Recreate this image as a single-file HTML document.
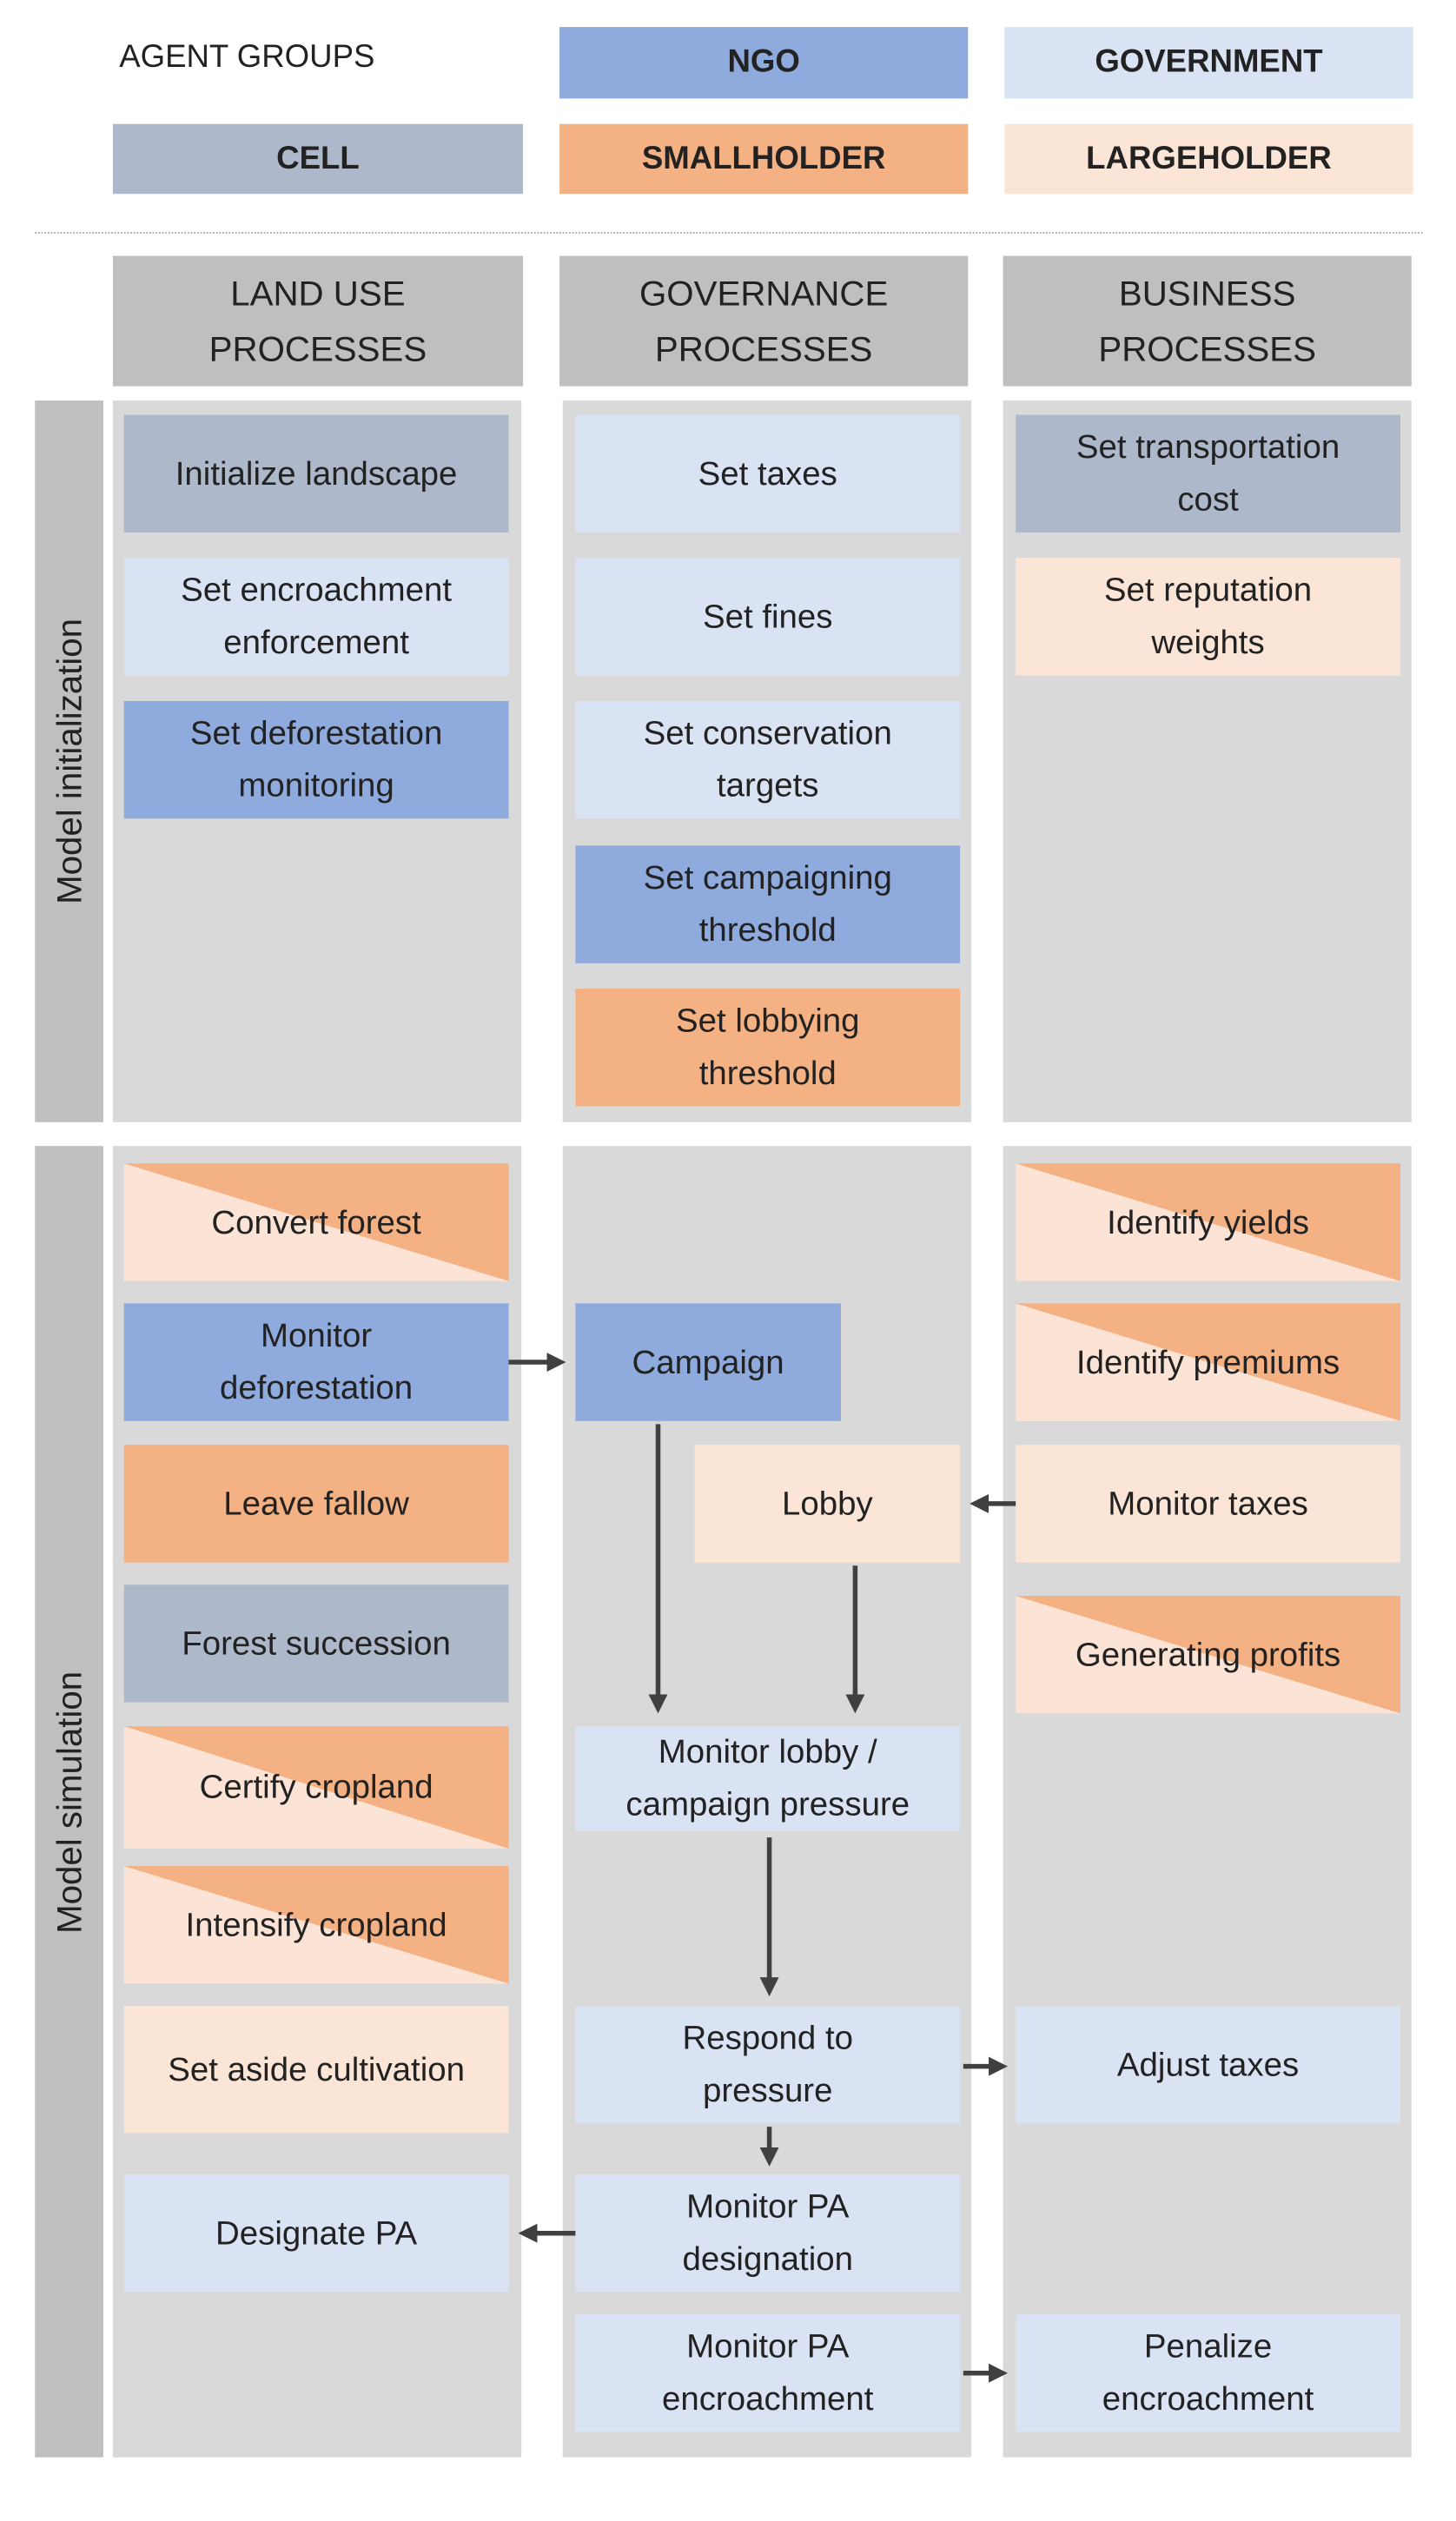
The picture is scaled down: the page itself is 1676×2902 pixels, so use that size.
<!DOCTYPE html>
<html><head><meta charset="utf-8"><style>
html,body{margin:0;padding:0;background:#fff;}
#wrap{position:relative;width:916px;height:1586px;transform:scale(1.8297);transform-origin:0 0;font-family:"Liberation Sans",sans-serif;color:#222;}
.b{position:absolute;display:flex;align-items:center;justify-content:center;text-align:center;font-size:21px;line-height:33px;box-sizing:border-box;}
.leg{font-weight:bold;font-size:20px;}
.hd{background:#bfbfbf;font-size:22px;line-height:35px;}
.bg{position:absolute;background:#d9d9d9;}
.side{position:absolute;background:#bfbfbf;}
.side span{position:absolute;left:50%;top:50%;transform:translate(-50%,-50%) rotate(-90deg);white-space:nowrap;font-size:22px;}
.ngo{background:#8faadc}.gov{background:#dae3f3}.cell{background:#adb9ca}.sh{background:#f4b183}.lh{background:#fbe5d6}
.dg{background:linear-gradient(to bottom left,#f4b183 50%,#fbe3d5 50%);}
</style></head><body><div id="wrap">
<div class="b" style="left:75px;top:20px;font-size:20px;justify-content:flex-start">AGENT GROUPS</div>
<div class="b leg ngo" style="left:352px;top:17px;width:257px;height:45px">NGO</div>
<div class="b leg gov" style="left:632px;top:17px;width:257px;height:45px">GOVERNMENT</div>
<div class="b leg cell" style="left:71px;top:78px;width:258px;height:44px">CELL</div>
<div class="b leg sh" style="left:352px;top:78px;width:257px;height:44px">SMALLHOLDER</div>
<div class="b leg lh" style="left:632px;top:78px;width:257px;height:44px">LARGEHOLDER</div>
<div style="position:absolute;left:22px;top:146px;width:873px;border-top:1.5px dotted #aaa"></div>
<div class="b hd" style="left:71px;top:161px;width:258px;height:82px">LAND USE<br>PROCESSES</div>
<div class="b hd" style="left:352px;top:161px;width:257px;height:82px">GOVERNANCE<br>PROCESSES</div>
<div class="b hd" style="left:631px;top:161px;width:257px;height:82px">BUSINESS<br>PROCESSES</div>

<div class="side" style="left:22px;top:252px;width:43px;height:454px"><span>Model initialization</span></div>
<div class="bg" style="left:71px;top:252px;width:257px;height:454px"></div>
<div class="bg" style="left:354px;top:252px;width:257px;height:454px"></div>
<div class="bg" style="left:631px;top:252px;width:257px;height:454px"></div>
<div class="b cell" style="left:78px;top:261px;width:242px;height:74px">Initialize landscape</div>
<div class="b gov" style="left:78px;top:351px;width:242px;height:74px">Set encroachment<br>enforcement</div>
<div class="b ngo" style="left:78px;top:441px;width:242px;height:74px">Set deforestation<br>monitoring</div>
<div class="b gov" style="left:362px;top:261px;width:242px;height:74px">Set taxes</div>
<div class="b gov" style="left:362px;top:351px;width:242px;height:74px">Set fines</div>
<div class="b gov" style="left:362px;top:441px;width:242px;height:74px">Set conservation<br>targets</div>
<div class="b ngo" style="left:362px;top:532px;width:242px;height:74px">Set campaigning<br>threshold</div>
<div class="b sh" style="left:362px;top:622px;width:242px;height:74px">Set lobbying<br>threshold</div>
<div class="b cell" style="left:639px;top:261px;width:242px;height:74px">Set transportation<br>cost</div>
<div class="b lh" style="left:639px;top:351px;width:242px;height:74px">Set reputation<br>weights</div>

<div class="side" style="left:22px;top:721px;width:43px;height:825px"><span>Model simulation</span></div>
<div class="bg" style="left:71px;top:721px;width:257px;height:825px"></div>
<div class="bg" style="left:354px;top:721px;width:257px;height:825px"></div>
<div class="bg" style="left:631px;top:721px;width:257px;height:825px"></div>
<div class="b dg" style="left:78px;top:732px;width:242px;height:74px">Convert forest</div>
<div class="b ngo" style="left:78px;top:820px;width:242px;height:74px">Monitor<br>deforestation</div>
<div class="b sh" style="left:78px;top:909px;width:242px;height:74px">Leave fallow</div>
<div class="b cell" style="left:78px;top:997px;width:242px;height:74px">Forest succession</div>
<div class="b dg" style="left:78px;top:1086px;width:242px;height:77px">Certify cropland</div>
<div class="b dg" style="left:78px;top:1174px;width:242px;height:74px">Intensify cropland</div>
<div class="b lh" style="left:78px;top:1262px;width:242px;height:80px">Set aside cultivation</div>
<div class="b gov" style="left:78px;top:1368px;width:242px;height:74px">Designate PA</div>
<div class="b ngo" style="left:362px;top:820px;width:167px;height:74px">Campaign</div>
<div class="b lh" style="left:437px;top:909px;width:167px;height:74px">Lobby</div>
<div class="b gov" style="left:362px;top:1086px;width:242px;height:66px">Monitor lobby /<br>campaign pressure</div>
<div class="b gov" style="left:362px;top:1262px;width:242px;height:74px">Respond to<br>pressure</div>
<div class="b gov" style="left:362px;top:1368px;width:242px;height:74px">Monitor PA<br>designation</div>
<div class="b gov" style="left:362px;top:1456px;width:242px;height:74px">Monitor PA<br>encroachment</div>
<div class="b dg" style="left:639px;top:732px;width:242px;height:74px">Identify yields</div>
<div class="b dg" style="left:639px;top:820px;width:242px;height:74px">Identify premiums</div>
<div class="b lh" style="left:639px;top:909px;width:242px;height:74px">Monitor taxes</div>
<div class="b dg" style="left:639px;top:1004px;width:242px;height:74px">Generating profits</div>
<div class="b gov" style="left:639px;top:1262px;width:242px;height:74px">Adjust taxes</div>
<div class="b gov" style="left:639px;top:1456px;width:242px;height:74px">Penalize<br>encroachment</div>

<svg style="position:absolute;left:0;top:0" width="916" height="1586">
<defs><marker id="a" markerWidth="4" markerHeight="4" refX="3" refY="2" orient="auto"><path d="M0,0L4,2L0,4z" fill="#404040"/></marker></defs>
<g stroke="#404040" stroke-width="3" marker-end="url(#a)">
<line x1="320" y1="857" x2="353" y2="857"/>
<line x1="414" y1="896" x2="414" y2="1075"/>
<line x1="538" y1="985" x2="538" y2="1075"/>
<line x1="639" y1="946" x2="613" y2="946"/>
<line x1="484" y1="1156" x2="484" y2="1253"/>
<line x1="484" y1="1338" x2="484" y2="1360"/>
<line x1="362" y1="1405" x2="329" y2="1405"/>
<line x1="606" y1="1300" x2="631" y2="1300"/>
<line x1="606" y1="1493" x2="631" y2="1493"/>
</g></svg>
</div></body></html>
